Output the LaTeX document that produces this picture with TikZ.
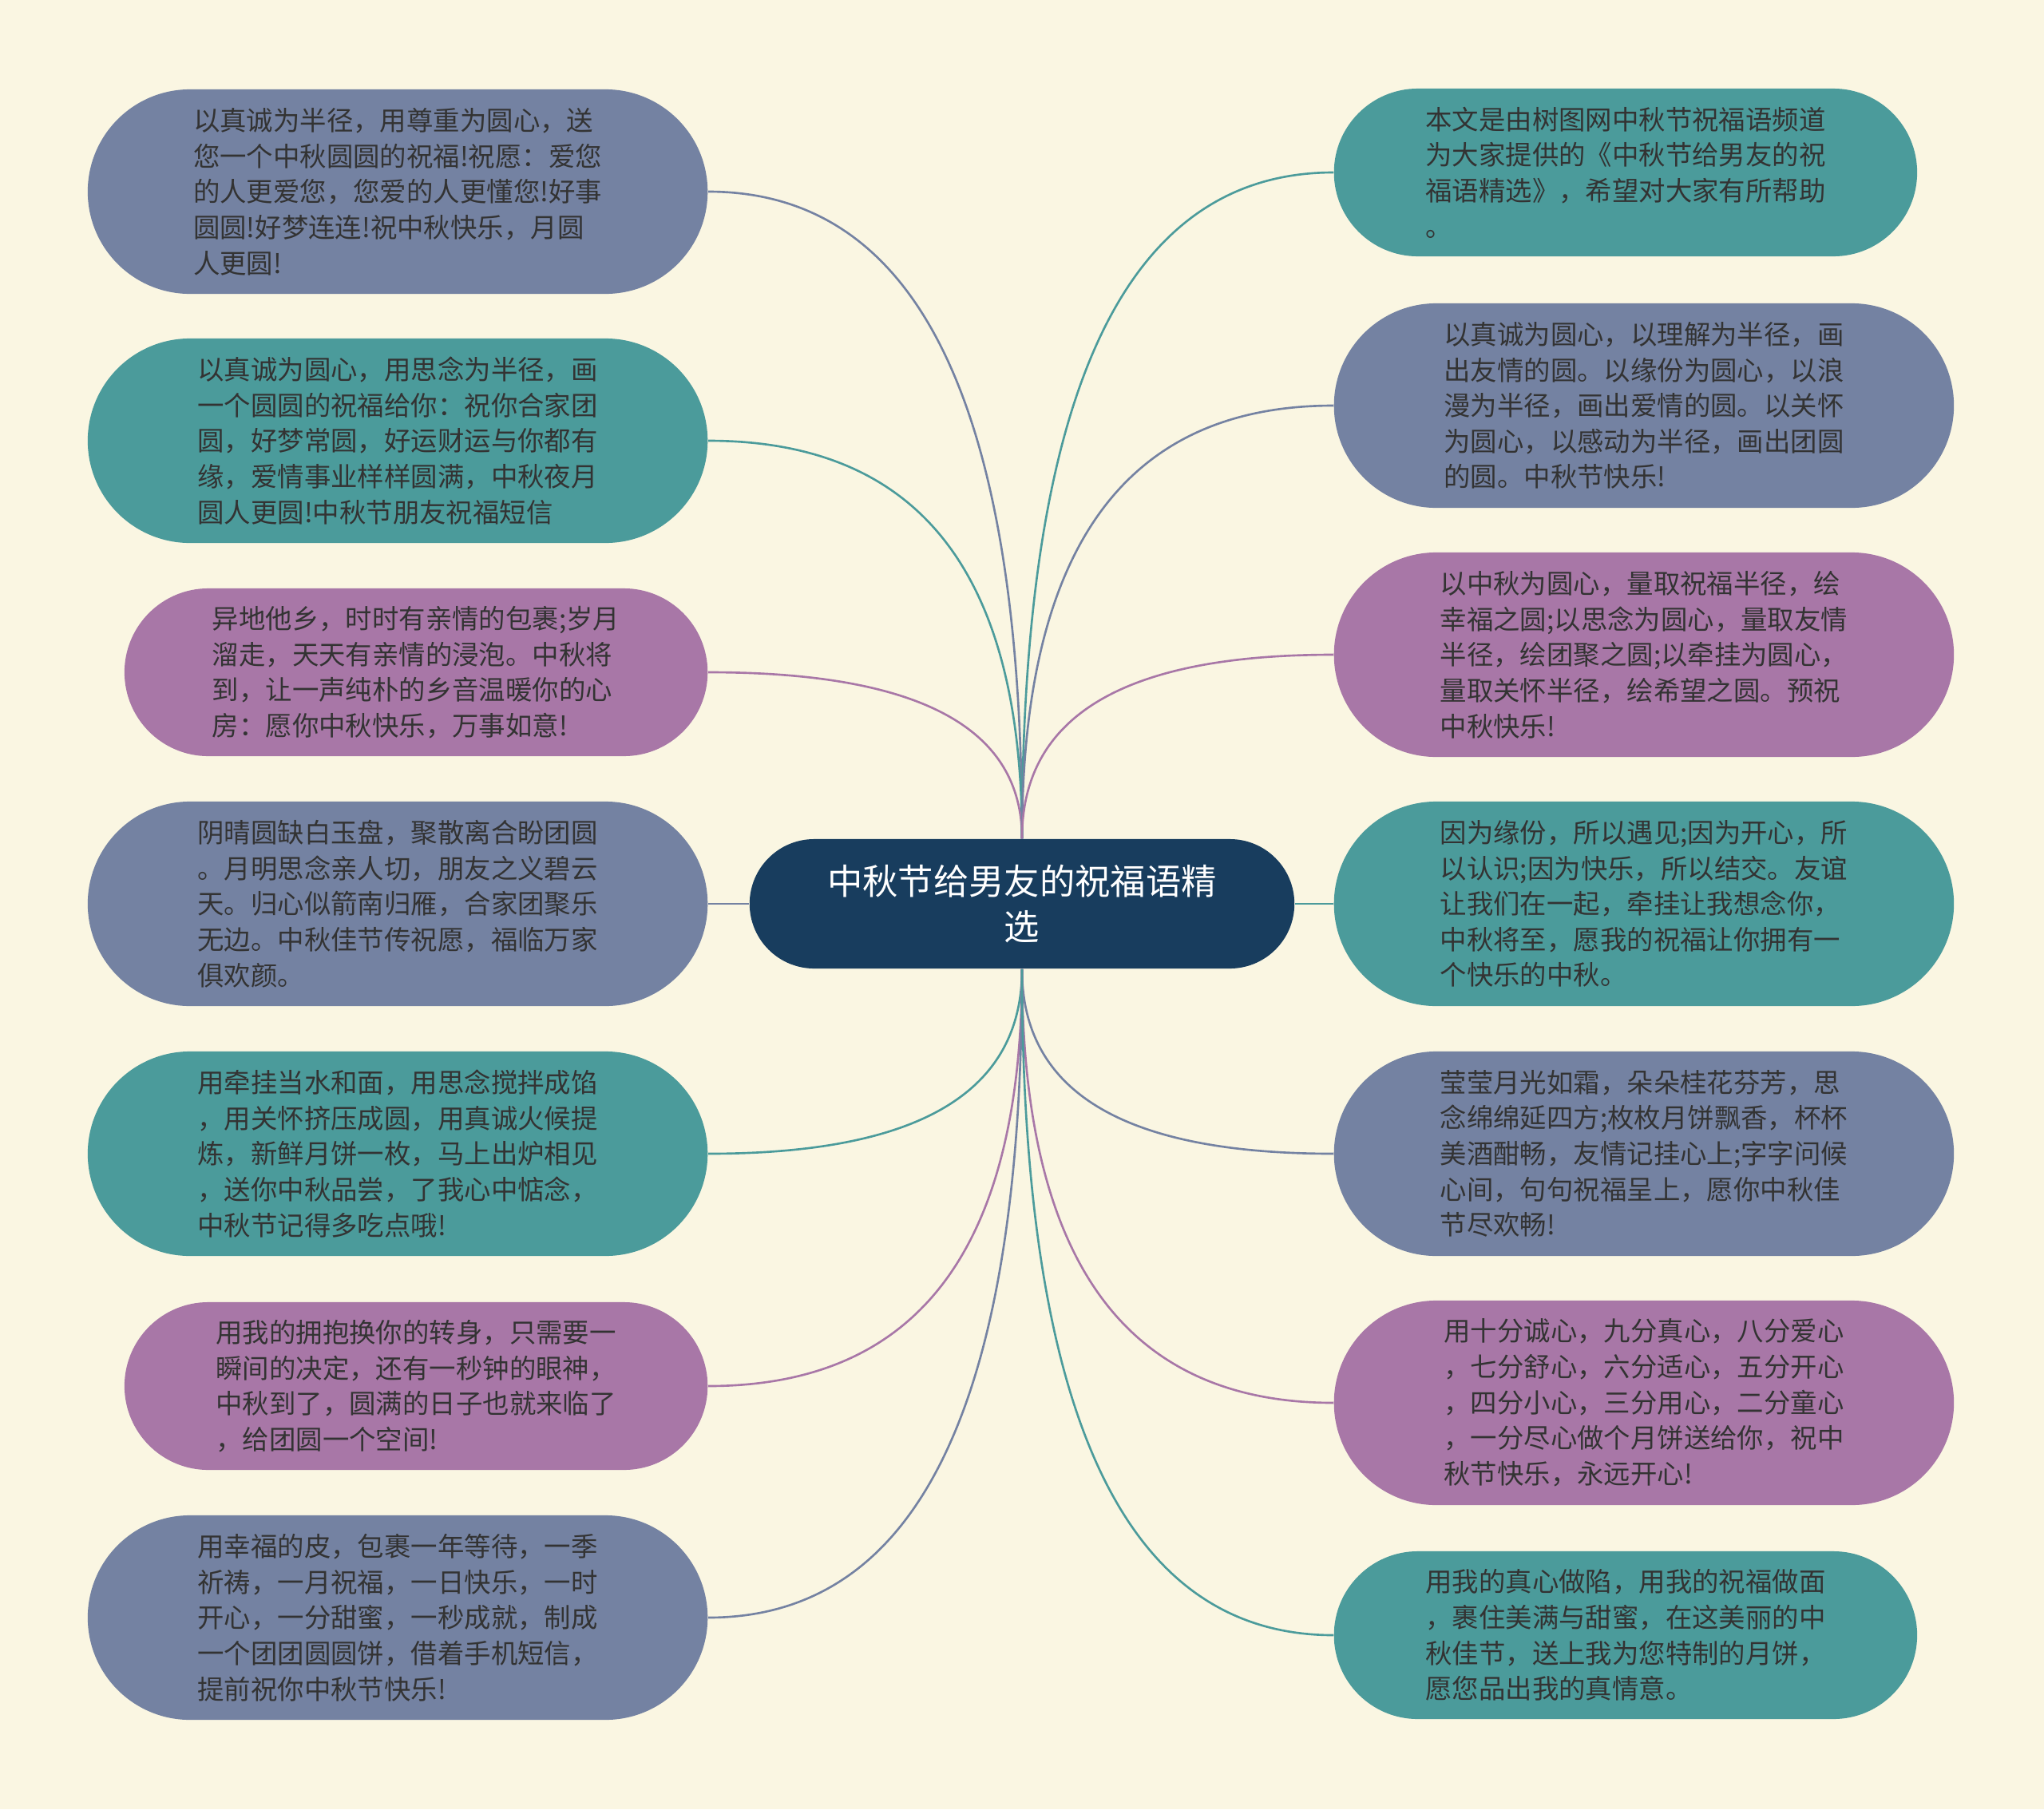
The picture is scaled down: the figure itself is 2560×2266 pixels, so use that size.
\documentclass[tikz,border=0pt]{standalone}
\usepackage{fontspec}
\usepackage{tikz}
\usetikzlibrary{calc}

\newfontfamily\cjk{Noto Sans CJK SC}

\definecolor{bgcream}{HTML}{FAF6E2}
\definecolor{cslate}{HTML}{7482A2}
\definecolor{cteal}{HTML}{4B9B9B}
\definecolor{cplum}{HTML}{A877A7}
\definecolor{cnavy}{HTML}{183D5E}
\definecolor{textgray}{HTML}{333333}

\tikzset{
	bubble/.style={rectangle, inner sep=0pt, align=left, text=textgray,
		font=\cjk\fontsize{9.5pt}{12.7pt}\selectfont},
	fiveline/.style={minimum width=7.76cm, minimum height=2.56cm, rounded corners=1.28cm},
	fourline/.style={minimum width=7.30cm, minimum height=2.10cm, rounded corners=1.05cm},
	hubbox/.style={rectangle, inner sep=0pt, align=center, fill=cnavy, text=white,
		minimum width=6.82cm, minimum height=1.62cm, rounded corners=0.81cm,
		font=\cjk\fontsize{12.6pt}{16.2pt}\selectfont},
	link/.style={line width=0.75pt},
	% vertical out of the hub, horizontal into the leaf
	swing/.style={to path={.. controls ($(\tikztostart)!0.67!(\tikztostart |- \tikztotarget)$)
		and ($(\tikztotarget)!0.67!(\tikztostart |- \tikztotarget)$) .. (\tikztotarget)}}
}

\begin{document}
\begin{tikzpicture}[x=0.01cm, y=-0.01cm]

	% background
	\fill[bgcream] (0,0) rectangle (2560,2266);
	\useasboundingbox (0,0) rectangle (2560,2266);

	% centre
	\node[hubbox] (hub) at (1280,1132) {中秋节给男友的祝福语精\\选};

	% left column
	\node[bubble, fiveline, fill=cslate, anchor=east] (l1) at (887,240)
		{以真诚为半径，用尊重为圆心，送\\您一个中秋圆圆的祝福!祝愿：爱您\\的人更爱您，您爱的人更懂您!好事\\圆圆!好梦连连!祝中秋快乐，月圆\\人更圆!};
	\node[bubble, fiveline, fill=cteal, anchor=east] (l2) at (887,552)
		{以真诚为圆心，用思念为半径，画\\一个圆圆的祝福给你：祝你合家团\\圆，好梦常圆，好运财运与你都有\\缘，爱情事业样样圆满，中秋夜月\\圆人更圆!中秋节朋友祝福短信};
	\node[bubble, fourline, fill=cplum, anchor=east] (l3) at (887,842)
		{异地他乡，时时有亲情的包裹;岁月\\溜走，天天有亲情的浸泡。中秋将\\到，让一声纯朴的乡音温暖你的心\\房：愿你中秋快乐，万事如意!};
	\node[bubble, fiveline, fill=cslate, anchor=east] (l4) at (887,1132)
		{阴晴圆缺白玉盘，聚散离合盼团圆\\。月明思念亲人切，朋友之义碧云\\天。归心似箭南归雁，合家团聚乐\\无边。中秋佳节传祝愿，福临万家\\俱欢颜。};
	\node[bubble, fiveline, fill=cteal, anchor=east] (l5) at (887,1445)
		{用牵挂当水和面，用思念搅拌成馅\\，用关怀挤压成圆，用真诚火候提\\炼，新鲜月饼一枚，马上出炉相见\\，送你中秋品尝，了我心中惦念，\\中秋节记得多吃点哦!};
	\node[bubble, fourline, fill=cplum, anchor=east] (l6) at (887,1736)
		{用我的拥抱换你的转身，只需要一\\瞬间的决定，还有一秒钟的眼神，\\中秋到了，圆满的日子也就来临了\\，给团圆一个空间!};
	\node[bubble, fiveline, fill=cslate, anchor=east] (l7) at (887,2026)
		{用幸福的皮，包裹一年等待，一季\\祈祷，一月祝福，一日快乐，一时\\开心，一分甜蜜，一秒成就，制成\\一个团团圆圆饼，借着手机短信，\\提前祝你中秋节快乐!};

	% right column
	\node[bubble, fourline, fill=cteal, anchor=west] (r1) at (1670,216)
		{本文是由树图网中秋节祝福语频道\\为大家提供的《中秋节给男友的祝\\福语精选》，希望对大家有所帮助\\。};
	\node[bubble, fiveline, fill=cslate, anchor=west] (r2) at (1670,508)
		{以真诚为圆心，以理解为半径，画\\出友情的圆。以缘份为圆心，以浪\\漫为半径，画出爱情的圆。以关怀\\为圆心，以感动为半径，画出团圆\\的圆。中秋节快乐!};
	\node[bubble, fiveline, fill=cplum, anchor=west] (r3) at (1670,820)
		{以中秋为圆心，量取祝福半径，绘\\幸福之圆;以思念为圆心，量取友情\\半径，绘团聚之圆;以牵挂为圆心，\\量取关怀半径，绘希望之圆。预祝\\中秋快乐!};
	\node[bubble, fiveline, fill=cteal, anchor=west] (r4) at (1670,1132)
		{因为缘份，所以遇见;因为开心，所\\以认识;因为快乐，所以结交。友谊\\让我们在一起，牵挂让我想念你，\\中秋将至，愿我的祝福让你拥有一\\个快乐的中秋。};
	\node[bubble, fiveline, fill=cslate, anchor=west] (r5) at (1670,1445)
		{莹莹月光如霜，朵朵桂花芬芳，思\\念绵绵延四方;枚枚月饼飘香，杯杯\\美酒酣畅，友情记挂心上;字字问候\\心间，句句祝福呈上，愿你中秋佳\\节尽欢畅!};
	\node[bubble, fiveline, fill=cplum, anchor=west] (r6) at (1670,1757)
		{用十分诚心，九分真心，八分爱心\\，七分舒心，六分适心，五分开心\\，四分小心，三分用心，二分童心\\，一分尽心做个月饼送给你，祝中\\秋节快乐，永远开心!};
	\node[bubble, fourline, fill=cteal, anchor=west] (r7) at (1670,2048)
		{用我的真心做陷，用我的祝福做面\\，裹住美满与甜蜜，在这美丽的中\\秋佳节，送上我为您特制的月饼，\\愿您品出我的真情意。};

	% links, left side
	\draw[link, cslate, swing] (hub.north) to (l1.east);
	\draw[link, cteal, swing]  (hub.north) to (l2.east);
	\draw[link, cplum, swing]  (hub.north) to (l3.east);
	\draw[link, cslate] (hub.west) -- (l4.east);
	\draw[link, cteal, swing]  (hub.south) to (l5.east);
	\draw[link, cplum, swing]  (hub.south) to (l6.east);
	\draw[link, cslate, swing] (hub.south) to (l7.east);

	% links, right side
	\draw[link, cteal, swing]  (hub.north) to (r1.west);
	\draw[link, cslate, swing] (hub.north) to (r2.west);
	\draw[link, cplum, swing]  (hub.north) to (r3.west);
	\draw[link, cteal] (hub.east) -- (r4.west);
	\draw[link, cslate, swing] (hub.south) to (r5.west);
	\draw[link, cplum, swing]  (hub.south) to (r6.west);
	\draw[link, cteal, swing]  (hub.south) to (r7.west);

\end{tikzpicture}
\end{document}
